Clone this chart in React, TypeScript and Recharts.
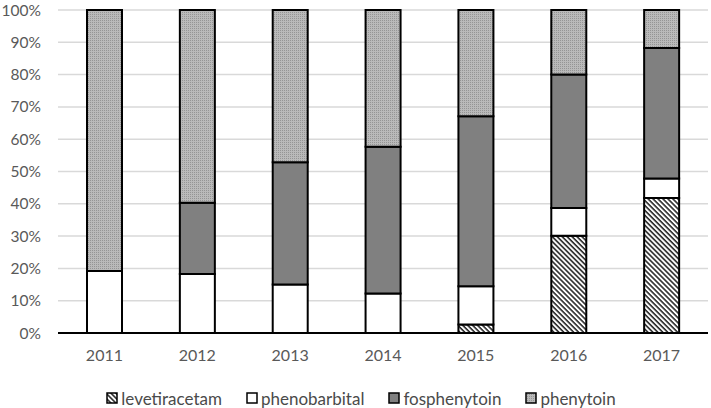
import React from 'react';
import { BarChart, Bar, XAxis, YAxis, CartesianGrid, Legend } from 'recharts';

const years = ['2011', '2012', '2013', '2014', '2015', '2016', '2017'];
const levetiracetam = [0, 0, 0, 0, 2.6, 30.1, 41.8];
const phenobarbital = [19.2, 18.3, 15.0, 12.2, 11.9, 8.6, 6.0];
const fosphenytoin = [0, 22.0, 37.9, 45.5, 52.6, 41.3, 40.4];
const phenytoin = [80.8, 59.7, 47.1, 42.3, 32.9, 20.0, 11.8];
const yTicks = [0, 10, 20, 30, 40, 50, 60, 70, 80, 90, 100];

const data = years.map((year, i) => ({
  year,
  levetiracetam: levetiracetam[i],
  phenobarbital: phenobarbital[i],
  fosphenytoin: fosphenytoin[i],
  phenytoin: phenytoin[i],
}));

const series = [
  { key: 'levetiracetam', fill: 'url(#hatchLev)' },
  { key: 'phenobarbital', fill: '#ffffff' },
  { key: 'fosphenytoin', fill: '#808080' },
  { key: 'phenytoin', fill: 'url(#dotPhen)' },
];

const FONT = 'Lato, "Open Sans", sans-serif';

const LegendContent = () => (
  <div
    style={{
      display: 'flex',
      justifyContent: 'center',
      alignItems: 'center',
      height: 30,
      paddingTop: 10,
      boxSizing: 'border-box',
      fontFamily: FONT,
      fontSize: 17,
      color: '#4a4a4a',
      paddingLeft: 14,
    }}
  >
    {series.map((s, i) => (
      <div key={s.key} style={{ display: 'flex', alignItems: 'center', marginRight: i < series.length - 1 ? 24 : 0 }}>
        <svg width={12} height={12} style={{ marginRight: 3 }}>
          <rect x={1} y={1} width={10} height={10} fill={s.fill} stroke="#000" strokeWidth={1.5} />
        </svg>
        <span>{s.key}</span>
      </div>
    ))}
  </div>
);

export default function App() {
  return (
    <div style={{ position: 'absolute', left: 0, top: 0, width: 711, height: 408, background: '#fff' }}>
      <svg width={0} height={0} style={{ position: 'absolute' }}>
        <defs>
          <pattern id="hatchLev" patternUnits="userSpaceOnUse" width={3.5} height={3.5} patternTransform="rotate(45)">
            <rect width={3.5} height={3.5} fill="#ffffff" />
            <rect x={0} y={0} width={3.5} height={1.6} fill="#2a2a2a" />
          </pattern>
          <pattern id="dotPhen" patternUnits="userSpaceOnUse" width={2} height={2}>
            <rect width={2} height={2} fill="#bababa" />
            <rect x={0} y={0} width={1} height={1} fill="#959595" />
          </pattern>
        </defs>
      </svg>
      <BarChart
        width={711}
        height={408}
        data={data}
        margin={{ top: 10, right: 3, bottom: 0, left: 0 }}
        barSize={35}
      >
        <CartesianGrid vertical={false} stroke="#d9d9d9" strokeWidth={1.5} />
        <XAxis
          dataKey="year"
          axisLine={{ stroke: '#000', strokeWidth: 2 }}
          tickLine={false}
          tickSize={0}
          tickMargin={17}
          height={45}
          tick={{ fill: '#595959', fontSize: 16, fontFamily: FONT }}
        />
        <YAxis
          domain={[0, 100]}
          ticks={yTicks}
          tickFormatter={(v) => `${v}%`}
          axisLine={false}
          tickLine={false}
          tickSize={0}
          tickMargin={17}
          width={58}
          tick={{ fill: '#595959', fontSize: 15.5, fontFamily: FONT }}
          interval={0}
        />
        <Legend verticalAlign="bottom" content={() => <LegendContent />} />
        {series.map((s) => (
          <Bar
            key={s.key}
            dataKey={s.key}
            stackId="a"
            fill={s.fill}
            stroke="#000"
            strokeWidth={2}
            isAnimationActive={false}
          />
        ))}
      </BarChart>
    </div>
  );
}
